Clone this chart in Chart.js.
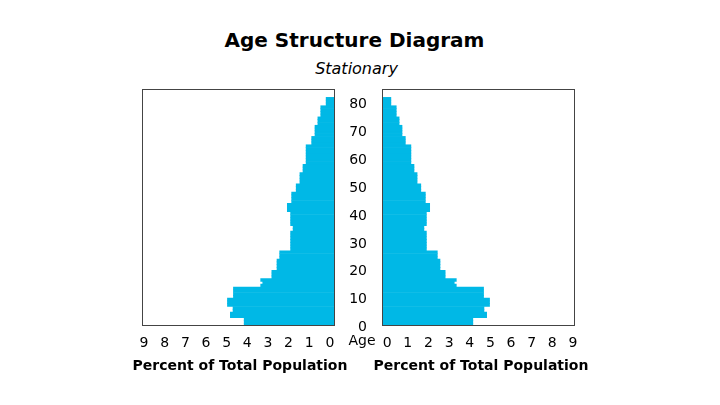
<!DOCTYPE html>
<html>
<head>
<meta charset="utf-8">
<title>Age Structure Diagram</title>
<script src="https://cdn.jsdelivr.net/npm/chart.js@4.4.1/dist/chart.umd.min.js"></script>
<style>
  html, body { margin: 0; padding: 0; background: #fff; }
  #stage { position: relative; width: 720px; height: 405px; overflow: hidden;
           font-family: "DejaVu Sans", Verdana, sans-serif; color: #000; }
  .txt { position: absolute; white-space: nowrap; text-align: center; }
  #title { left: 0; width: 709px; top: 30px; font-size: 20px; line-height: 20px; font-weight: bold; }
  #subtitle { left: 0; width: 713px; top: 61px; font-size: 16px; line-height: 16px; font-style: italic; }
  #ageLabel { left: 342px; width: 40px; top: 333px; font-size: 14px; line-height: 14px; }
  .xtitle { top: 358px; width: 260px; font-size: 14px; line-height: 14px; font-weight: bold; }
  #xTitleLeft { left: 110px; }
  #xTitleRight { left: 351px; }
  canvas { position: absolute; }
  #leftChart { left: 120px; top: 80px; }
  #rightChart { left: 340px; top: 80px; }
</style>
</head>
<body>
<div id="stage">
  <div id="title" class="txt">Age Structure Diagram</div>
  <div id="subtitle" class="txt">Stationary</div>
  <canvas id="leftChart" width="230" height="310"></canvas>
  <canvas id="rightChart" width="250" height="310"></canvas>
  <div id="ageLabel" class="txt">Age</div>
  <div id="xTitleLeft" class="txt xtitle">Percent of Total Population</div>
  <div id="xTitleRight" class="txt xtitle">Percent of Total Population</div>
</div>

<script>
// --- 1. DATA (percent of total population per single year of age) ---
const ages = [];
for (let a = 0; a <= 84; a++) ages.push(String(a));

// left side
const maleShare = [
  4.15, 4.15, 4.15, 4.82, 4.82, 4.69, 4.69, 4.96, 4.96, 4.96,   // 0-9
  4.67, 4.67, 4.67, 4.67, 3.35, 3.25, 3.35, 2.81, 2.81, 2.81,   // 10-19
  2.56, 2.56, 2.56, 2.56, 2.43, 2.43, 2.43, 1.90, 1.90, 1.90,   // 20-29
  1.90, 1.90, 1.90, 1.90, 1.78, 1.78, 1.90, 1.90, 1.90, 1.90,   // 30-39
  1.90, 2.06, 2.06, 2.06, 1.85, 1.85, 1.85, 1.85, 1.63, 1.63,   // 40-49
  1.63, 1.45, 1.45, 1.45, 1.45, 1.30, 1.30, 1.30, 1.15, 1.15,   // 50-59
  1.15, 1.15, 1.15, 1.15, 1.15, 0.88, 0.88, 0.88, 0.72, 0.72,   // 60-69
  0.72, 0.72, 0.58, 0.58, 0.58, 0.44, 0.44, 0.44, 0.44, 0.18,   // 70-79
  0.18, 0.18, null, null, null                                  // 80-84
];

// right side
const femaleShare = [
  4.15, 4.15, 4.15, 4.82, 4.82, 4.69, 4.69, 4.96, 4.96, 4.96,
  4.67, 4.67, 4.67, 4.67, 3.35, 3.25, 3.35, 2.81, 2.81, 2.81,
  2.56, 2.56, 2.56, 2.56, 2.43, 2.43, 2.43, 1.90, 1.90, 1.90,
  1.90, 1.90, 1.90, 1.90, 1.78, 1.78, 1.90, 1.90, 1.90, 1.90,
  1.90, 2.06, 2.06, 2.06, 1.85, 1.85, 1.85, 1.85, 1.63, 1.63,
  1.63, 1.45, 1.45, 1.45, 1.45, 1.30, 1.30, 1.30, 1.15, 1.15,
  1.15, 1.15, 1.15, 1.15, 1.15, 0.88, 0.88, 0.88, 0.72, 0.72,
  0.72, 0.72, 0.58, 0.58, 0.58, 0.44, 0.44, 0.44, 0.44, 0.18,
  0.18, 0.18, null, null, null
];

const percentTicks = [0, 1, 2, 3, 4, 5, 6, 7, 8, 9];
const ageTickStep = 10;

const FONT = '"DejaVu Sans", Verdana, sans-serif';
const BAR_COLOR = '#00b8e6';

// --- 2. FRAME AROUND EACH PANEL ---
const framePlugin = {
  id: 'frame',
  afterDraw(chart) {
    const { ctx, chartArea: a } = chart;
    ctx.save();
    ctx.strokeStyle = '#444';
    ctx.lineWidth = 1;
    ctx.strokeRect(a.left + 0.5, a.top + 0.5, a.right - a.left - 1, a.bottom - a.top - 1);
    ctx.restore();
  }
};

// --- 3. PANEL BUILDER ---
function makePanel(canvasId, values, side) {
  const isLeft = side === 'left';
  return new Chart(document.getElementById(canvasId), {
    type: 'bar',
    data: {
      labels: ages,
      datasets: [{
        data: values,
        base: -0.25,
        backgroundColor: BAR_COLOR,
        borderWidth: 0,
        barPercentage: 1,
        categoryPercentage: 1
      }]
    },
    options: {
      indexAxis: 'y',
      responsive: false,
      animation: false,
      layout: { padding: isLeft ? { left: 22, right: 15, top: 9, bottom: 0 }
                                : { left: 0, right: 15, top: 9, bottom: 0 } },
      plugins: { legend: { display: false }, tooltip: { enabled: false } },
      scales: {
        x: {
          type: 'linear',
          min: -0.25,
          max: 9.1,
          reverse: isLeft,
          afterBuildTicks: s => { s.ticks = percentTicks.map(v => ({ value: v })); },
          afterFit: s => {
            s.height = 64;
            s.paddingLeft = 0; s.paddingRight = 0;
          },
          grid: { display: false, drawTicks: false },
          border: { display: false },
          ticks: { color: '#000', font: { family: FONT, size: 14 }, padding: 9,
                   maxRotation: 0, autoSkip: false }
        },
        y: {
          display: !isLeft,
          reverse: true,
          afterFit: s => {
            if (!isLeft) s.width = 42;
            s.paddingTop = 0; s.paddingBottom = 0;
          },
          grid: { display: false, drawTicks: false },
          border: { display: false },
          ticks: {
            autoSkip: false,
            color: '#000',
            font: { family: FONT, size: 14 },
            padding: 15,
            labelOffset: 3,
            callback: function (value, index) {
              return index % ageTickStep === 0 ? ages[index] : '';
            }
          }
        }
      }
    },
    plugins: [framePlugin]
  });
}

makePanel('leftChart', maleShare, 'left');
makePanel('rightChart', femaleShare, 'right');
</script>
</body>
</html>
